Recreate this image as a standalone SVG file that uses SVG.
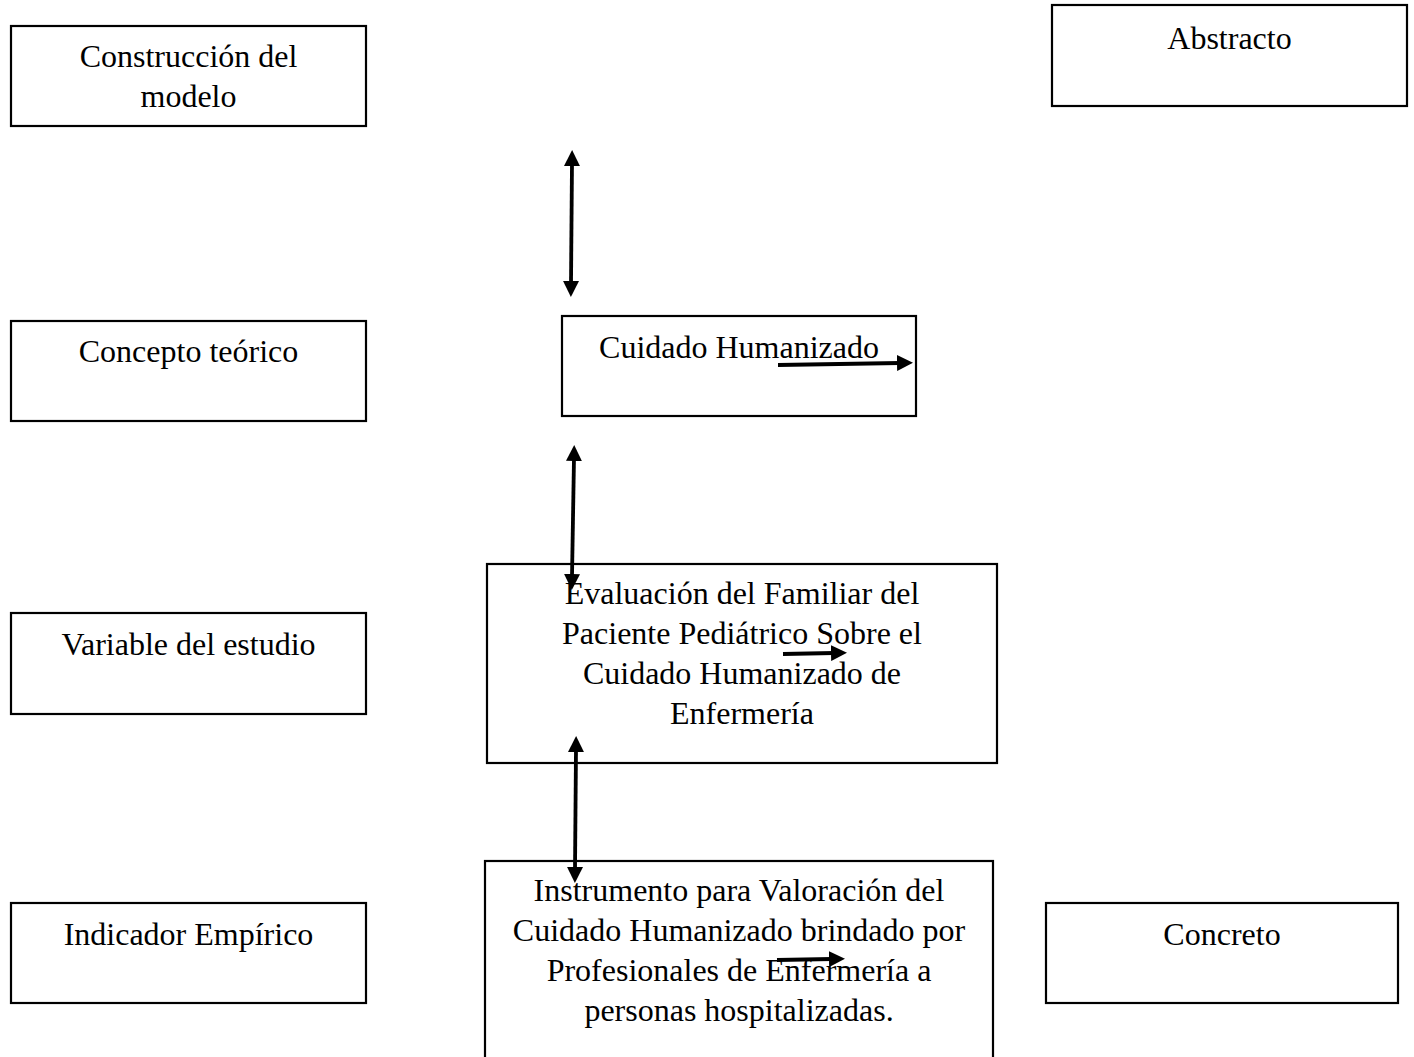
<svg xmlns="http://www.w3.org/2000/svg" width="1414" height="1057" viewBox="0 0 1414 1057">
<style>
.box{fill:#fff;stroke:#000;stroke-width:2.2}
.t{font-family:"Liberation Serif","Times New Roman",serif;font-size:32px;fill:#000;text-anchor:middle}
.arr{stroke:#000;stroke-width:3.8;fill:none}
</style>
<defs>
<marker id="ah" viewBox="0 0 16 16" markerWidth="16" markerHeight="16" refX="3" refY="8" markerUnits="userSpaceOnUse" orient="auto-start-reverse">
<path d="M0,0 L16,8 L0,16 z" fill="#000"/>
</marker>
</defs>
<rect width="1414" height="1057" fill="#fff"/>
<g id="n-construccion">
<rect class="box" x="11" y="26" width="355" height="100"/>
<text class="t" x="188.5" y="67">Construcción del</text>
<text class="t" x="188.5" y="107">modelo</text>
</g>
<g id="n-abstracto">
<rect class="box" x="1052" y="5" width="355" height="101"/>
<text class="t" x="1229.5" y="49">Abstracto</text>
</g>
<g id="n-concepto">
<rect class="box" x="11" y="321" width="355" height="100"/>
<text class="t" x="188.5" y="362">Concepto teórico</text>
</g>
<g id="n-cuidado">
<rect class="box" x="562" y="316" width="354" height="100"/>
<text class="t" x="739" y="358">Cuidado Humanizado</text>
</g>
<g id="n-variable">
<rect class="box" x="11" y="613" width="355" height="101"/>
<text class="t" x="188.5" y="655">Variable del estudio</text>
</g>
<g id="n-evaluacion">
<rect class="box" x="487" y="564" width="510" height="199"/>
<text class="t" x="742" y="604">Evaluación del Familiar del</text>
<text class="t" x="742" y="644">Paciente Pediátrico Sobre el</text>
<text class="t" x="742" y="684">Cuidado Humanizado de</text>
<text class="t" x="742" y="724">Enfermería</text>
</g>
<g id="n-indicador">
<rect class="box" x="11" y="903" width="355" height="100"/>
<text class="t" x="188.5" y="945">Indicador Empírico</text>
</g>
<g id="n-instrumento">
<rect class="box" x="485" y="861" width="508" height="220"/>
<text class="t" x="739" y="901">Instrumento para Valoración del</text>
<text class="t" x="739" y="941">Cuidado Humanizado brindado por</text>
<text class="t" x="739" y="981">Profesionales de Enfermería a</text>
<text class="t" x="739" y="1021">personas hospitalizadas.</text>
</g>
<g id="n-concreto">
<rect class="box" x="1046" y="903" width="352" height="100"/>
<text class="t" x="1222" y="945">Concreto</text>
</g>
<g id="connectors">
<line class="arr" x1="572" y1="163" x2="571" y2="284" marker-start="url(#ah)" marker-end="url(#ah)"/>
<line class="arr" x1="574" y1="458" x2="572" y2="577" marker-start="url(#ah)" marker-end="url(#ah)"/>
<line class="arr" x1="576" y1="749" x2="575" y2="870" marker-start="url(#ah)" marker-end="url(#ah)"/>
<line class="arr" x1="778" y1="365" x2="900" y2="363" marker-end="url(#ah)"/>
<line class="arr" x1="783" y1="654" x2="834" y2="653" marker-end="url(#ah)"/>
<line class="arr" x1="777" y1="960" x2="832" y2="959" marker-end="url(#ah)"/>
</g>
</svg>
